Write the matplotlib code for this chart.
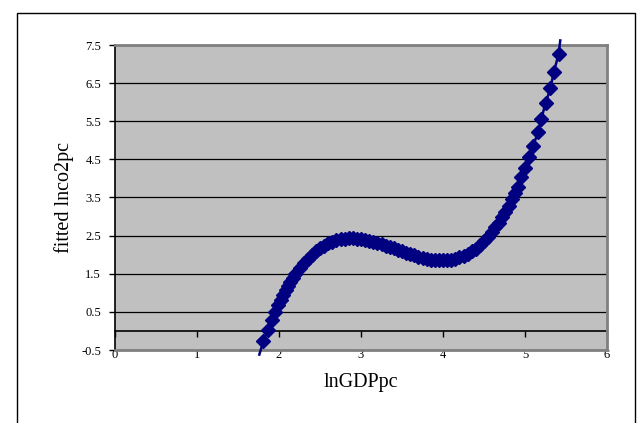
import matplotlib
matplotlib.use("Agg")
import matplotlib.pyplot as plt
from matplotlib.patches import Rectangle
import numpy as np

plt.rcParams["font.family"] = ["Liberation Serif", "DejaVu Serif"]

# fitted values (markers)
ln_gdp = [1.81, 1.86, 1.91, 1.95, 1.99, 2.02, 2.05, 2.08, 2.11, 2.14, 2.17, 2.20,
          2.25, 2.30, 2.35, 2.40, 2.45, 2.50, 2.55, 2.60, 2.65, 2.70, 2.75, 2.80,
          2.85, 2.90, 2.95, 3.00, 3.05, 3.10, 3.15, 3.20, 3.25, 3.30, 3.35, 3.40,
          3.45, 3.50, 3.55, 3.60, 3.65, 3.70, 3.75, 3.80, 3.85, 3.90, 3.95, 4.00,
          4.05, 4.10, 4.15, 4.20, 4.25, 4.30, 4.35, 4.40, 4.45, 4.50, 4.55, 4.60,
          4.64, 4.68, 4.72, 4.76, 4.80, 4.84, 4.88, 4.91,
          4.95, 5.00, 5.05, 5.10, 5.16, 5.20, 5.25, 5.31, 5.35, 5.41]
fitted_co2 = [-0.27, 0.02, 0.29, 0.49, 0.68, 0.82, 0.95, 1.07, 1.18, 1.29, 1.40, 1.50,
              1.64, 1.78, 1.90, 2.00, 2.10, 2.18, 2.24, 2.30, 2.34, 2.38, 2.40, 2.42,
              2.43, 2.43, 2.42, 2.41, 2.39, 2.37, 2.34, 2.31, 2.28, 2.24, 2.20, 2.17,
              2.13, 2.09, 2.05, 2.01, 1.98, 1.95, 1.92, 1.89, 1.87, 1.86, 1.85, 1.85,
              1.86, 1.87, 1.89, 1.93, 1.97, 2.02, 2.09, 2.16, 2.25, 2.35, 2.47, 2.60,
              2.72, 2.84, 2.98, 3.12, 3.28, 3.45, 3.63, 3.78,
              4.05, 4.28, 4.57, 4.85, 5.23, 5.57, 5.97, 6.36, 6.78, 7.26]

# trendline runs a little past the first and last marker
trend_start = (1.76, -0.62)
trend_end = (5.43, 7.62)

x_ticks = [0, 1, 2, 3, 4, 5, 6]
y_ticks = [-0.5, 0.5, 1.5, 2.5, 3.5, 4.5, 5.5, 6.5, 7.5]

navy = "#000080"

fig = plt.figure(figsize=(6.39, 4.23), dpi=100)
ax = fig.add_axes([115 / 639, 1 - 350 / 423, 492 / 639, 305 / 423])
ax.set_facecolor("#C0C0C0")

# outer chart border
fig.patches.append(Rectangle((17 / 639, -0.05), 618 / 639, 1.05 - 13 / 423,
                             transform=fig.transFigure, fill=False,
                             edgecolor="black", linewidth=1))

trend_x = [trend_start[0]] + ln_gdp + [trend_end[0]]
trend_y = [trend_start[1]] + fitted_co2 + [trend_end[1]]
ax.plot(trend_x, trend_y, color=navy, lw=1.8, clip_on=False, zorder=4)
ax.plot(ln_gdp, fitted_co2, linestyle="none", marker="D", ms=7,
        color=navy, mec=navy, zorder=5)

ax.set_xlim(0, 6)
ax.set_ylim(-0.5, 7.5)
ax.set_yticks(y_ticks)
ax.set_yticklabels([f"{v:g}" for v in y_ticks])
ax.set_xticks(x_ticks)
ax.tick_params(axis="y", direction="out", length=4, width=1, pad=6,
               labelsize=9, colors="black")
ax.tick_params(axis="x", length=0, pad=-1, labelsize=9)

ax.yaxis.grid(True, color="black", linewidth=0.9)
ax.set_axisbelow(True)

for side in ("top", "right", "bottom"):
    ax.spines[side].set_color("#808080")
    ax.spines[side].set_linewidth(2)
ax.spines["left"].set_color("black")
ax.spines["left"].set_linewidth(1.2)

# x axis line crosses at y = 0 with tick marks
sec = ax.secondary_xaxis(0.5 / 8)
sec.set_xticks(x_ticks)
sec.tick_params(direction="out", length=4, width=1, labelbottom=False,
                labeltop=False, colors="black")
sec.spines["bottom"].set_color("black")
sec.spines["bottom"].set_linewidth(1.2)

ax.set_xlabel("lnGDPpc", fontsize=14.5, labelpad=9)
ax.set_ylabel("fitted lnco2pc", fontsize=14.5, labelpad=5)

fig.savefig("out.png", dpi=100)
